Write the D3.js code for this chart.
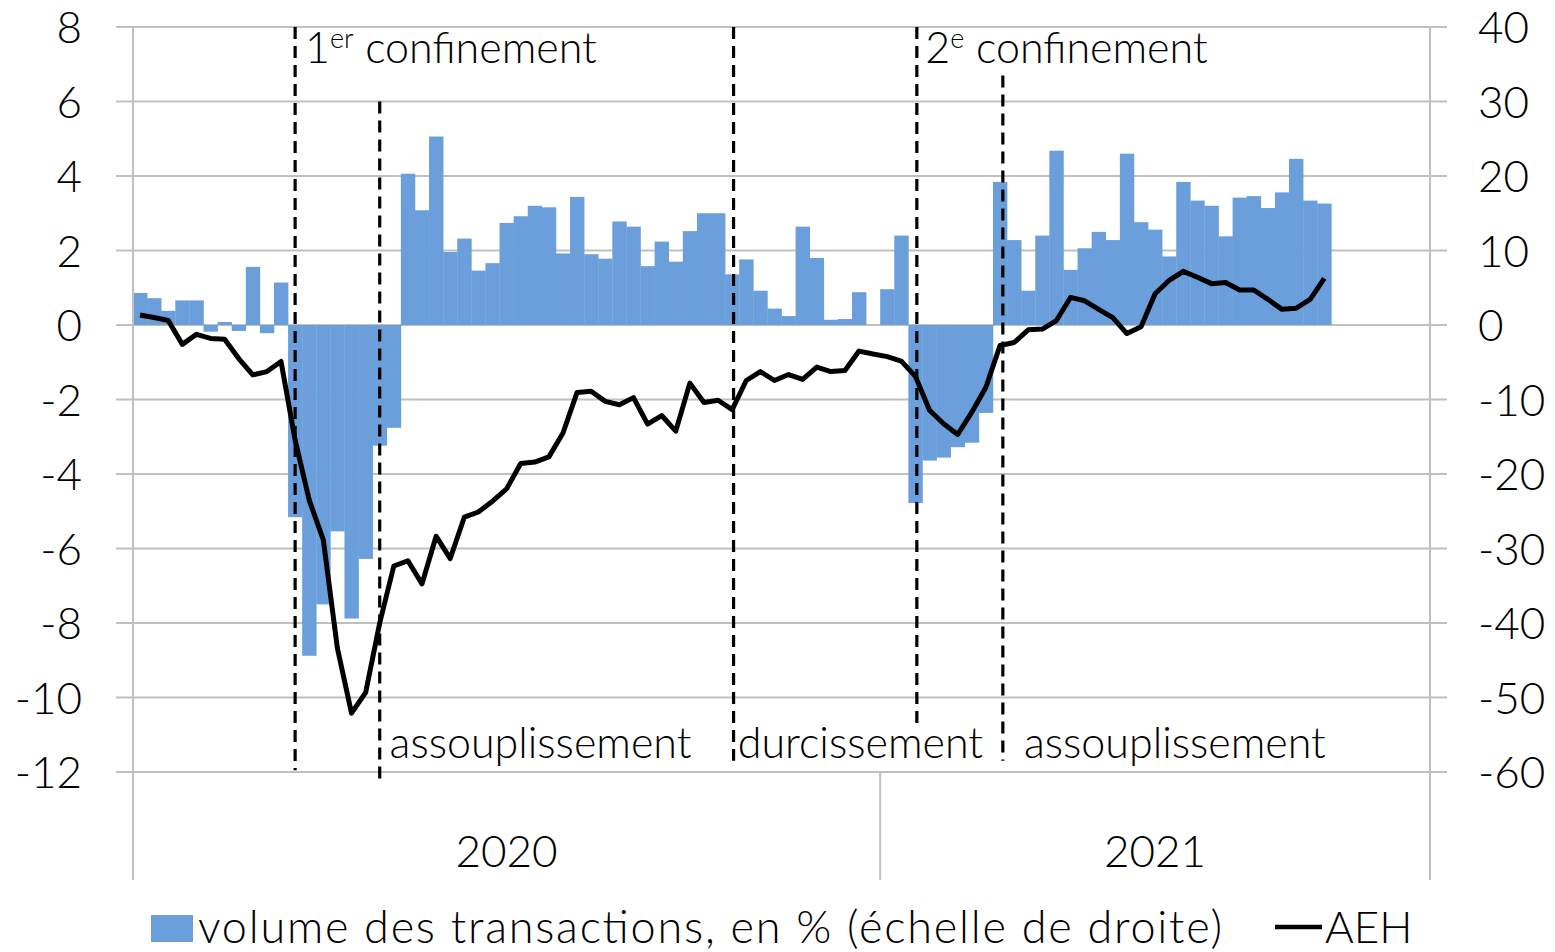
<!DOCTYPE html>
<html>
<head>
<meta charset="utf-8">
<script src="https://cdn.jsdelivr.net/npm/d3@7/dist/d3.min.js"></script>
<style>
  body { margin: 0; background: #fff; }
  svg text { font-family: Lato, "Open Sans", sans-serif; font-weight: 300; fill: #000; }
</style>
</head>
<body>
<div id="chart"></div>
<script>
// semaines par année (2020 compte 53 semaines ISO)
const years = [2020, 2021];
const weeksPerYear = [53, 39];

// volume des transactions, en % (échelle de droite)
const volume = [
  4.3, 3.6, 1.9, 3.3, 3.3, -0.9, 0.4, -0.8, 7.8, -1.1,
  5.7, -25.8, -44.4, -37.5, -27.7, -39.4, -31.4, -16.2, -13.8, 20.3,
  15.4, 25.3, 9.8, 11.6, 7.3, 8.3, 13.7, 14.6, 16.0, 15.8,
  9.6, 17.2, 9.5, 8.9, 13.9, 13.2, 7.9, 11.2, 8.5, 12.6,
  15.0, 15.0, 6.8, 8.8, 4.6, 2.2, 1.2, 13.2, 9.0, 0.7,
  0.8, 4.4, null, 4.8, 12.0, -23.9, -18.2, -17.8, -16.4, -15.8,
  -11.8, 19.2, 11.4, 4.6, 12.0, 23.4, 7.4, 10.3, 12.5, 11.4,
  23.0, 13.8, 12.8, 9.2, 19.2, 16.7, 16.0, 11.9, 17.1, 17.3,
  15.7, 17.8, 22.3, 16.7, 16.3
];

// AEH (échelle de gauche)
const aeh = [
  0.27, 0.2, 0.12, -0.52, -0.25, -0.36, -0.38, -0.9, -1.34, -1.25,
  -0.98, -3.09, -4.7, -5.77, -8.68, -10.42, -9.87, -8.0, -6.47, -6.33,
  -6.95, -5.67, -6.27, -5.16, -5.02, -4.73, -4.4, -3.72, -3.68, -3.54,
  -2.9, -1.81, -1.78, -2.05, -2.14, -1.95, -2.66, -2.43, -2.85, -1.56,
  -2.08, -2.02, -2.27, -1.49, -1.25, -1.49, -1.33, -1.46, -1.13, -1.25,
  -1.22, -0.7, -0.78, -0.85, -0.97, -1.38, -2.29, -2.65, -2.94, -2.34,
  -1.67, -0.55, -0.47, -0.13, -0.11, 0.12, 0.74, 0.65, 0.42, 0.2,
  -0.23, -0.05, 0.84, 1.2, 1.44, 1.28, 1.11, 1.14, 0.94, 0.94,
  0.69, 0.42, 0.45, 0.69, 1.25
];

const leftTicks = [-12, -10, -8, -6, -4, -2, 0, 2, 4, 6, 8];
const rightTicks = [-60, -50, -40, -30, -20, -10, 0, 10, 20, 30, 40];

// lignes pointillées des phases (position en semaines, haut/bas en unités de gauche)
const phaseLines = [
  { week: 11.5, top: 8, bottom: -11.95 },
  { week: 17.5, top: 6, bottom: -12.3 },
  { week: 42.6, top: 8, bottom: -11.7 },
  { week: 55.6, top: 8, bottom: -10.8 },
  { week: 61.7, top: 6.7, bottom: -11.7 }
];
const phaseLabels = [
  { week: 12.2, y: 7.03, num: "1", sup: "er", text: " confinement" },
  { week: 56.2, y: 7.03, num: "2", sup: "e", text: " confinement" },
  { week: 18.2, y: -11.62, num: "", sup: "", text: "assouplissement" },
  { week: 42.9, y: -11.62, num: "", sup: "", text: "durcissement" },
  { week: 63.2, y: -11.62, num: "", sup: "", text: "assouplissement" }
];

const weeks = [];
years.forEach((y, k) => {
  for (let w = 1; w <= weeksPerYear[k]; w++) weeks.push(`${y}-S${w}`);
});

const width = 1555, height = 952;
const plot = { left: 133, right: 1430, top: 27, bottom: 772 };
const labelSize = 43;
const tickSize = 44;
const barColor = "#6b9fdb";
const gridColor = "#c0c0c0";

const svg = d3.select("#chart")
  .append("svg")
  .attr("width", width)
  .attr("height", height);

const x = d3.scaleBand()
  .domain(weeks)
  .range([plot.left, plot.right])
  .padding(0);

const xWeek = d3.scaleLinear()
  .domain([0, weeks.length])
  .range([plot.left, plot.right]);

const yLeft = d3.scaleLinear()
  .domain([-12, 8])
  .range([plot.bottom, plot.top]);

const yRight = d3.scaleLinear()
  .domain([-60, 40])
  .range([plot.bottom, plot.top]);

// grille horizontale
svg.append("g")
  .selectAll("line")
  .data(leftTicks)
  .enter()
  .append("line")
  .attr("x1", plot.left - 17)
  .attr("x2", plot.right + 17)
  .attr("y1", d => yLeft(d))
  .attr("y2", d => yLeft(d))
  .attr("stroke", gridColor)
  .attr("stroke-width", 2);

// barres
const barData = volume.map((v, i) => ({ week: weeks[i], v })).filter(d => d.v !== null);
svg.append("g")
  .selectAll("rect")
  .data(barData)
  .enter()
  .append("rect")
  .attr("x", d => x(d.week))
  .attr("width", x.bandwidth() + 0.3)
  .attr("y", d => yRight(Math.max(0, d.v)))
  .attr("height", d => Math.abs(yRight(d.v) - yRight(0)))
  .attr("fill", barColor);

// axe des catégories : séparations d'années
const yearStarts = [];
let acc = 0;
weeksPerYear.forEach(n => { yearStarts.push(acc); acc += n; });

svg.append("g")
  .selectAll("line")
  .data([0, weeks.length])
  .enter()
  .append("line")
  .attr("x1", d => xWeek(d))
  .attr("x2", d => xWeek(d))
  .attr("y1", plot.top)
  .attr("y2", 880)
  .attr("stroke", gridColor)
  .attr("stroke-width", 2);

svg.append("g")
  .selectAll("line")
  .data(yearStarts.slice(1))
  .enter()
  .append("line")
  .attr("x1", d => xWeek(d))
  .attr("x2", d => xWeek(d))
  .attr("y1", plot.bottom)
  .attr("y2", 880)
  .attr("stroke", gridColor)
  .attr("stroke-width", 2);

svg.append("g")
  .selectAll("text")
  .data(years)
  .enter()
  .append("text")
  .attr("x", (d, k) => (xWeek(yearStarts[k]) + xWeek(yearStarts[k] + weeksPerYear[k])) / 2)
  .attr("y", 867)
  .attr("text-anchor", "middle")
  .style("font-size", tickSize + "px")
  .text(d => d);

// lignes pointillées
svg.append("g")
  .selectAll("line")
  .data(phaseLines)
  .enter()
  .append("line")
  .attr("x1", d => xWeek(d.week))
  .attr("x2", d => xWeek(d.week))
  .attr("y1", d => yLeft(d.top))
  .attr("y2", d => yLeft(d.bottom))
  .attr("stroke", "#000")
  .attr("stroke-width", 3.2)
  .attr("stroke-dasharray", "12,7");

// courbe AEH
const line = d3.line()
  .x((d, i) => x(weeks[i]) + x.bandwidth() / 2)
  .y(d => yLeft(d));

svg.append("path")
  .datum(aeh)
  .attr("d", line)
  .attr("fill", "none")
  .attr("stroke", "#000")
  .attr("stroke-width", 5)
  .attr("stroke-linejoin", "round");

// libellés des phases
const labels = svg.append("g")
  .selectAll("text")
  .data(phaseLabels)
  .enter()
  .append("text")
  .attr("x", d => xWeek(d.week))
  .attr("y", d => yLeft(d.y))
  .style("font-size", labelSize + "px");
labels.append("tspan").text(d => d.num);
labels.append("tspan")
  .attr("dy", d => d.sup ? -15 : 0)
  .style("font-size", "27px")
  .text(d => d.sup);
labels.append("tspan")
  .attr("dy", d => d.sup ? 15 : 0)
  .text(d => d.text);

// axe de gauche
svg.append("g")
  .attr("transform", `translate(${plot.left - 51},0)`)
  .call(d3.axisLeft(yLeft).tickValues(leftTicks).tickFormat(d => String(d)).tickSize(0).tickPadding(0))
  .call(g => g.select(".domain").remove())
  .selectAll("text")
  .attr("dy", "0.36em")
  .style("font-family", "Lato, sans-serif")
  .style("font-weight", 300)
  .style("font-size", tickSize + "px")
  .attr("fill", "#000");

// axe de droite
svg.append("g")
  .attr("transform", `translate(${plot.right + 48},0)`)
  .call(d3.axisRight(yRight).tickValues(rightTicks).tickFormat(d => String(d)).tickSize(0).tickPadding(0))
  .call(g => g.select(".domain").remove())
  .selectAll("text")
  .attr("dy", "0.36em")
  .style("font-family", "Lato, sans-serif")
  .style("font-weight", 300)
  .style("font-size", tickSize + "px")
  .attr("fill", "#000");

// légende
const legend = svg.append("g");
legend.append("rect")
  .attr("x", 151).attr("y", 915)
  .attr("width", 42).attr("height", 27)
  .attr("fill", barColor);
legend.append("text")
  .attr("x", 198).attr("y", 943)
  .attr("textLength", 1024)
  .attr("lengthAdjust", "spacing")
  .style("font-size", "45px")
  .text("volume des transactions, en % (échelle de droite)");
legend.append("line")
  .attr("x1", 1275).attr("x2", 1322)
  .attr("y1", 927).attr("y2", 927)
  .attr("stroke", "#000")
  .attr("stroke-width", 4.5);
legend.append("text")
  .attr("x", 1325).attr("y", 943)
  .style("font-size", "44px")
  .text("AEH");
</script>
</body>
</html>
